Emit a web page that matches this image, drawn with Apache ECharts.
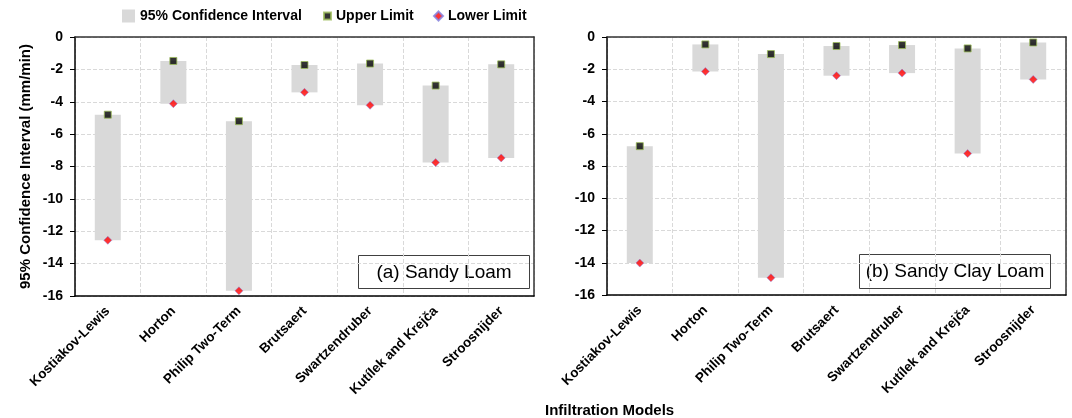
<!DOCTYPE html>
<html>
<head>
<meta charset="utf-8">
<title>95% Confidence Interval by Infiltration Model</title>
<script src="https://cdn.jsdelivr.net/npm/echarts@6/dist/echarts.min.js"></script>
<style>
  html, body { margin: 0; padding: 0; background: #fff; }
  #chart { width: 1072px; height: 418px; }
</style>
</head>
<body>
<div id="chart"></div>
<script>
// Infiltration models shown on both panels
const models = ['Kostiakov-Lewis', 'Horton', 'Philip Two-Term', 'Brutsaert',
                'Swartzendruber', 'Kutílek and Krejča', 'Stroosnijder'];

// (a) Sandy Loam: 95% CI limits (mm/min)
const upperA = [-4.8, -1.48, -5.2, -1.73, -1.64, -3.0, -1.69];
const lowerA = [-12.56, -4.12, -15.68, -3.42, -4.22, -7.76, -7.47];

// (b) Sandy Clay Loam: 95% CI limits (mm/min)
const upperB = [-6.77, -0.46, -1.06, -0.56, -0.5, -0.71, -0.34];
const lowerB = [-14.02, -2.14, -14.93, -2.4, -2.24, -7.23, -2.63];

// Value axis ticks
const yMin = -16, yMax = 0, yStep = 2;

const FONT = 'Liberation Sans';
const GREY = '#d9d9d9';

const grids = [
  { left: 75, top: 37, width: 459, height: 259 },
  { left: 607, top: 37, width: 459, height: 258 }
];

function xAxesFor(gi) {
  return [
    {
      type: 'category', gridIndex: gi, data: models, position: 'bottom',
      axisLine: { onZero: false, lineStyle: { color: '#000', width: 1.5 } },
      axisTick: { interval: 0, length: 5, lineStyle: { color: '#000' } },
      axisLabel: { interval: 0, rotate: 45, margin: 13, color: '#000',
                   fontFamily: FONT, fontWeight: 'bold', fontSize: 13.5 },
      splitLine: { show: true, interval: 0, lineStyle: { color: GREY, type: 'dashed' } }
    },
    {
      // mid-category ticks
      type: 'category', gridIndex: gi, data: models, position: 'bottom',
      axisLine: { show: false, onZero: false },
      axisTick: { alignWithLabel: true, interval: 0, length: 5, lineStyle: { color: '#000' } },
      axisLabel: { show: false },
      splitLine: { show: false }
    },
    {
      // top edge of the plot frame
      type: 'category', gridIndex: gi, data: models, position: 'top',
      axisLine: { show: true, onZero: false, lineStyle: { color: '#333', width: 1.5 } },
      axisTick: { show: false }, axisLabel: { show: false }, splitLine: { show: false }
    }
  ];
}

function yAxesFor(gi, withName) {
  return [
    {
      type: 'value', gridIndex: gi, min: yMin, max: yMax, interval: yStep, position: 'left',
      name: withName ? '95% Confidence Interval (mm/min)' : '',
      nameLocation: 'middle', nameRotate: 90, nameGap: 42,
      nameTextStyle: { fontFamily: FONT, fontWeight: 'bold', fontSize: 15, color: '#000' },
      axisLine: { show: true, onZero: false, lineStyle: { color: '#000', width: 1.5 } },
      axisTick: { show: true, length: 5, lineStyle: { color: '#000' } },
      axisLabel: { color: '#000', fontFamily: FONT, fontWeight: 'bold', fontSize: 14, margin: 12 },
      splitLine: { show: true, lineStyle: { color: GREY, type: 'dashed' } }
    },
    {
      // right edge of the plot frame
      type: 'value', gridIndex: gi, min: yMin, max: yMax, interval: yStep, position: 'right',
      axisLine: { show: true, onZero: false, lineStyle: { color: '#333', width: 1.5 } },
      axisTick: { show: false }, axisLabel: { show: false }, splitLine: { show: false }
    }
  ];
}

function seriesFor(gi, upper, lower) {
  const xi = gi * 3;
  const yi = gi * 2;
  const stack = 'ci' + gi;
  return [
    {
      type: 'bar', xAxisIndex: xi, yAxisIndex: yi, stack: stack, silent: true,
      barWidth: 26, itemStyle: { color: 'rgba(0,0,0,0)' },
      data: upper
    },
    {
      name: '95% Confidence Interval',
      type: 'bar', xAxisIndex: xi, yAxisIndex: yi, stack: stack,
      barWidth: 26, itemStyle: { color: GREY },
      data: lower.map((v, i) => +(v - upper[i]).toFixed(4))
    },
    {
      name: 'Upper Limit', type: 'scatter', xAxisIndex: xi, yAxisIndex: yi, z: 5,
      symbol: 'rect', symbolSize: 7,
      itemStyle: { color: '#000', borderColor: '#9bbb59', borderWidth: 1 },
      data: upper
    },
    {
      name: 'Lower Limit', type: 'scatter', xAxisIndex: xi, yAxisIndex: yi, z: 5,
      symbol: 'diamond', symbolSize: 8,
      itemStyle: { color: '#ff0000', borderColor: '#8080e0', borderWidth: 0.6 },
      data: lower
    }
  ];
}

const legendText = { fontFamily: FONT, fontWeight: 'bold', fontSize: 14, color: '#000' };

const option = {
  animation: false,
  backgroundColor: '#fff',
  textStyle: { fontFamily: FONT },
  grid: grids,
  legend: [
    { data: ['95% Confidence Interval'], left: 117, top: 4, icon: 'rect',
      itemWidth: 13, itemHeight: 13, textStyle: legendText, selectedMode: false },
    { data: ['Upper Limit'], left: 318, top: 4, icon: 'rect',
      itemWidth: 7, itemHeight: 7, textStyle: legendText, selectedMode: false },
    { data: ['Lower Limit'], left: 428, top: 4, icon: 'diamond',
      itemWidth: 9, itemHeight: 9, textStyle: legendText, selectedMode: false }
  ],
  title: {
    text: 'Infiltration Models', left: 540, top: 398,
    textStyle: { fontFamily: FONT, fontWeight: 'bold', fontSize: 15, color: '#000' }
  },
  xAxis: [].concat(xAxesFor(0), xAxesFor(1)),
  yAxis: [].concat(yAxesFor(0, true), yAxesFor(1, false)),
  series: [].concat(seriesFor(0, upperA, lowerA), seriesFor(1, upperB, lowerB)),
  graphic: [
    {
      type: 'group', left: 358, top: 255, z: 10,
      children: [
        { type: 'rect', shape: { x: 0, y: 0, width: 171, height: 33 },
          style: { fill: '#fff', stroke: '#404040', lineWidth: 1 } },
        { type: 'text', x: 85.5, y: 17,
          style: { text: '(a) Sandy Loam', fontFamily: FONT, fontSize: 19, fill: '#000',
                   align: 'center', verticalAlign: 'middle' } }
      ]
    },
    {
      type: 'group', left: 859, top: 254, z: 10,
      children: [
        { type: 'rect', shape: { x: 0, y: 0, width: 191, height: 34 },
          style: { fill: '#fff', stroke: '#404040', lineWidth: 1 } },
        { type: 'text', x: 95.5, y: 17.5,
          style: { text: '(b) Sandy Clay Loam', fontFamily: FONT, fontSize: 19, fill: '#000',
                   align: 'center', verticalAlign: 'middle' } }
      ]
    }
  ]
};

const chart = echarts.init(document.getElementById('chart'), null, { renderer: 'canvas' });
chart.setOption(option);
</script>
</body>
</html>
